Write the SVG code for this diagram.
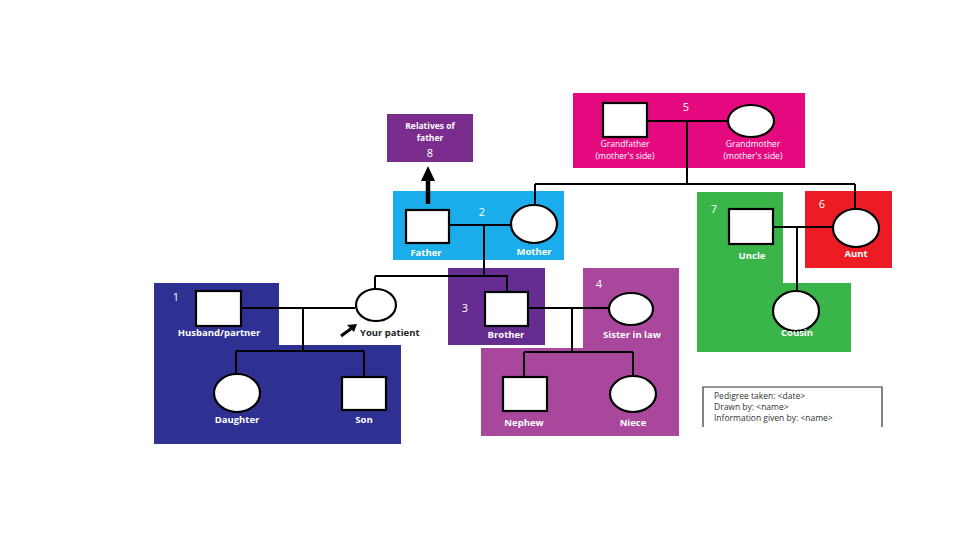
<svg xmlns="http://www.w3.org/2000/svg" width="960" height="540" viewBox="0 0 960 540">
<style>
.sym{fill:#fff;stroke:#000;stroke-width:2.2}
.lbl{font-family:"Open Sans","DejaVu Sans",sans-serif;font-weight:bold;font-size:9.5px;fill:#fff;text-anchor:middle}
.sm{font-size:8.5px}
.num{font-family:"Open Sans","DejaVu Sans",sans-serif;font-size:11px;fill:#fff;text-anchor:middle}
.ln{fill:none;stroke:#000;stroke-width:2}
.info{font-family:"Open Sans","DejaVu Sans",sans-serif;font-size:8.5px;fill:#333}
</style>
<rect width="960" height="540" fill="#fff"/>
<g id="regions">
<polygon points="154,283 279,283 279,345 401,345 401,444 154,444" fill="#2E3192"/>
<rect x="393" y="191" width="171" height="69" fill="#1BADEB"/>
<rect x="448" y="268" width="97" height="77" fill="#662D91"/>
<polygon points="583,268 679,268 679,436 481,436 481,348 583,348" fill="#A8479C"/>
<rect x="573" y="93" width="232" height="75" fill="#E5097F"/>
<polygon points="697,192 783,192 783,283 851,283 851,352 697,352" fill="#39B54A"/>
<rect x="805" y="191" width="87" height="77" fill="#ED1C24"/>
<rect x="387" y="114" width="86" height="48" fill="#7B2D8E"/>
</g>
<g id="connectors">
<path class="ln" d="M241,308H355M303,308V351M236,351H364M236,351V375M364,351V377"/>
<path class="ln" d="M449,225H511M484,225V275M375,276H507V292M375,276V289"/>
<path class="ln" d="M528,308H609M572,308V352M524,352H633M524,352V377M633,352V377"/>
<path class="ln" d="M647,121H728M687,121V184M535,184H855M535,184V205M855,184V209"/>
<path class="ln" d="M773,227H833M797,227V291"/>
<line x1="428" y1="204" x2="428" y2="178" stroke="#000" stroke-width="4.5"/>
<polygon points="421,181 435,181 428,166" fill="#000"/>
<line x1="341" y1="336" x2="352" y2="328" stroke="#000" stroke-width="3"/>
<polygon points="347,325 357,324 354,332" fill="#000"/>
</g>
<g id="n1"><text class="num" x="176" y="301">1</text></g>
<g id="husband"><rect class="sym" x="196" y="291" width="45" height="35"/><text class="lbl" x="219" y="336">Husband/partner</text></g>
<g id="patient"><ellipse class="sym" cx="376" cy="305" rx="20" ry="16"/><text class="lbl" x="360" y="336" style="fill:#222;text-anchor:start">Your patient</text></g>
<g id="daughter"><ellipse class="sym" cx="237" cy="393" rx="23" ry="19"/><text class="lbl" x="237" y="423">Daughter</text></g>
<g id="son"><rect class="sym" x="342" y="377" width="44" height="33"/><text class="lbl" x="364" y="423">Son</text></g>
<g id="n2"><text class="num" x="482" y="216">2</text></g>
<g id="father"><rect class="sym" x="406" y="210" width="43" height="33"/><text class="lbl" x="426" y="256">Father</text></g>
<g id="mother"><ellipse class="sym" cx="534" cy="224" rx="23" ry="19"/><text class="lbl" x="534" y="255">Mother</text></g>
<g id="relatives"><text class="lbl sm" x="430" y="129">Relatives of</text><text class="lbl sm" x="430" y="141">father</text><text class="num" x="430" y="157">8</text></g>
<g id="n3"><text class="num" x="465" y="312">3</text></g>
<g id="brother"><rect class="sym" x="485" y="292" width="43" height="34"/><text class="lbl" x="506" y="338">Brother</text></g>
<g id="n4"><text class="num" x="599" y="288">4</text></g>
<g id="sisterinlaw"><ellipse class="sym" cx="631" cy="309" rx="22" ry="16"/><text class="lbl" x="632" y="338">Sister in law</text></g>
<g id="nephew"><rect class="sym" x="503" y="377" width="44" height="34"/><text class="lbl" x="524" y="426">Nephew</text></g>
<g id="niece"><ellipse class="sym" cx="633" cy="394" rx="23" ry="18"/><text class="lbl" x="633" y="426">Niece</text></g>
<g id="n5"><text class="num" x="686" y="111">5</text></g>
<g id="grandfather"><rect class="sym" x="603" y="103" width="44" height="34"/><text class="lbl sm" x="625" y="147" style="font-weight:normal">Grandfather</text><text class="lbl sm" x="625" y="159" style="font-weight:normal">(mother's side)</text></g>
<g id="grandmother"><ellipse class="sym" cx="751" cy="121" rx="23" ry="16"/><text class="lbl sm" x="753" y="147" style="font-weight:normal">Grandmother</text><text class="lbl sm" x="753" y="159" style="font-weight:normal">(mother's side)</text></g>
<g id="n7"><text class="num" x="714" y="213">7</text></g>
<g id="uncle"><rect class="sym" x="729" y="209" width="44" height="35"/><text class="lbl" x="752" y="259">Uncle</text></g>
<g id="n6"><text class="num" x="822" y="208">6</text></g>
<g id="aunt"><ellipse class="sym" cx="856" cy="228" rx="23" ry="19"/><text class="lbl" x="856" y="257">Aunt</text></g>
<g id="cousin"><ellipse class="sym" cx="796" cy="311" rx="23" ry="20"/><text class="lbl" x="797" y="336">Cousin</text></g>
<g id="info">
<path d="M703,427V387H882V427" fill="none" stroke="#333" stroke-width="1.2"/>
<text class="info" x="714" y="399">Pedigree taken: &lt;date&gt;</text>
<text class="info" x="714" y="410">Drawn by: &lt;name&gt;</text>
<text class="info" x="714" y="421">Information given by: &lt;name&gt;</text>
</g>
</svg>
